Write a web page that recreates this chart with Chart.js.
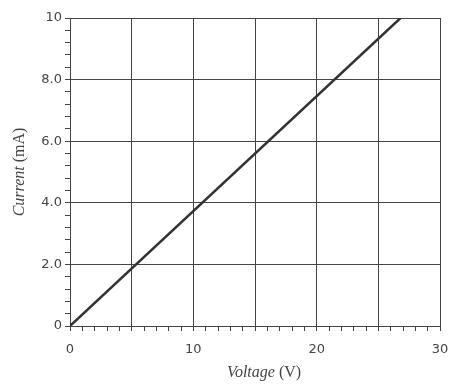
<!DOCTYPE html>
<html>
<head>
<meta charset="utf-8">
<script src="https://cdn.jsdelivr.net/npm/chart.js@4/dist/chart.umd.min.js"></script>
<style>
  html, body { margin: 0; padding: 0; background: #fff; }
  #wrap { width: 450px; height: 385px; }
</style>
</head>
<body>
<div id="wrap"><canvas id="c" width="450" height="385"></canvas></div>
<script>
// Data (I-V line of a resistor)
const voltage = [0, 26.8];
const current = [0, 10];
const xTickLabels = { 0: '0', 10: '10', 20: '20', 30: '30' };
const yTickLabels = { 0: '0', 2: '2.0', 4: '4.0', 6: '6.0', 8: '8.0', 10: '10' };
const xTitle = ['Voltage', ' (V)'];
const yTitle = ['Current', ' (mA)'];

const points = voltage.map((v, i) => ({ x: v, y: current[i] }));

const near = (v, step) => Math.abs(v / step - Math.round(v / step)) < 1e-6;

const titlePlugin = {
  id: 'mixedTitles',
  afterDraw(chart) {
    const ctx = chart.ctx;
    const a = chart.chartArea;
    const italic = 'italic 16px "Liberation Serif", "DejaVu Serif", serif';
    const normal = '16px "Liberation Serif", "DejaVu Serif", serif';
    ctx.save();
    ctx.fillStyle = '#444';
    ctx.textBaseline = 'middle';
    ctx.font = italic; const w1 = ctx.measureText(xTitle[0]).width;
    ctx.font = normal; const w2 = ctx.measureText(xTitle[1]).width;
    const cx = (a.left + a.right) / 2 + 9;
    const sx = cx - (w1 + w2) / 2;
    const ty = 373;
    ctx.textAlign = 'left';
    ctx.font = italic; ctx.fillText(xTitle[0], sx, ty);
    ctx.font = normal; ctx.fillText(xTitle[1], sx + w1, ty);
    ctx.translate(20, (a.top + a.bottom) / 2);
    ctx.rotate(-Math.PI / 2);
    ctx.font = italic; const h1 = ctx.measureText(yTitle[0]).width;
    ctx.font = normal; const h2 = ctx.measureText(yTitle[1]).width;
    const sy = -(h1 + h2) / 2;
    ctx.font = italic; ctx.fillText(yTitle[0], sy, 0);
    ctx.font = normal; ctx.fillText(yTitle[1], sy + h1, 0);
    ctx.restore();
  }
};

new Chart(document.getElementById('c'), {
  type: 'scatter',
  data: {
    datasets: [{
      data: points,
      showLine: true,
      borderColor: '#333',
      borderWidth: 2.5,
      pointRadius: 0,
      fill: false
    }]
  },
  options: {
    responsive: false,
    animation: false,
    layout: { padding: { left: 0, right: 0, top: 18, bottom: 0 } },
    plugins: { legend: { display: false }, tooltip: { enabled: false } },
    scales: {
      x: {
        type: 'linear',
        min: 0, max: 30,
        afterFit: s => { s.height = 59; s.paddingRight = 10; s.paddingLeft = 0; },
        border: { display: true, color: '#444', width: 1 },
        grid: {
          color: c => near(c.tick.value, 5) ? '#444' : 'rgba(0,0,0,0)',
          tickColor: '#444',
          tickLength: 5,
          lineWidth: 1
        },
        ticks: {
          stepSize: 1,
          autoSkip: false,
          maxRotation: 0,
          padding: 11,
          color: '#444',
          font: { family: '"DejaVu Sans", sans-serif', size: 13 },
          callback: v => (xTickLabels[Math.round(v)] !== undefined && near(v, 1)) ? xTickLabels[Math.round(v)] : ''
        }
      },
      y: {
        type: 'linear',
        min: 0, max: 10,
        afterFit: s => { s.width = 70; },
        border: { display: true, color: '#444', width: 1 },
        grid: {
          color: c => near(c.tick.value, 2) ? '#444' : 'rgba(0,0,0,0)',
          tickColor: '#444',
          tickLength: 5,
          lineWidth: 1
        },
        ticks: {
          stepSize: 0.4,
          autoSkip: false,
          padding: 3,
          color: '#444',
          font: { family: '"DejaVu Sans", sans-serif', size: 13 },
          callback: v => near(v, 2) ? yTickLabels[Math.round(v)] : ''
        }
      }
    }
  },
  plugins: [titlePlugin]
});
</script>
</body>
</html>
